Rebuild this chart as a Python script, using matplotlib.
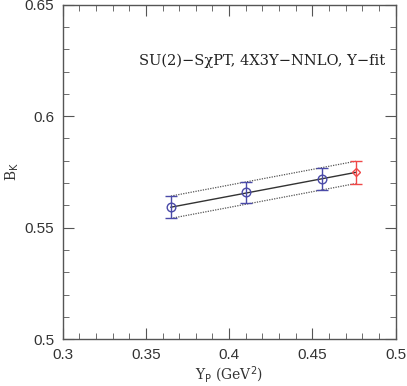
import matplotlib
matplotlib.use("Agg")
import matplotlib.pyplot as plt
from matplotlib.ticker import MultipleLocator

# data points (Y_P, B_K, error)
yp_blue = [0.365, 0.410, 0.4555]
bk_blue = [0.5592, 0.5658, 0.5718]
err_blue = [0.0050, 0.0049, 0.0049]

yp_red = [0.476]
bk_red = [0.5748]
err_red = [0.0050]

# fit line and error band
fit_x = [0.365, 0.476]
fit_y = [0.5592, 0.5748]
band_hi = [0.5642, 0.5798]
band_lo = [0.5542, 0.5698]

blue = "#4a4aa8"
red = "#f04848"
axcol = "#555555"

fig = plt.figure(figsize=(4.07, 3.86), dpi=100)
ax = fig.add_axes([0.154, 0.121, 0.818, 0.867])

ax.plot(fit_x, fit_y, color="#333333", lw=1.0)
ax.plot(fit_x, band_hi, color="#555555", lw=0.9, ls=(0, (1, 1)))
ax.plot(fit_x, band_lo, color="#555555", lw=0.9, ls=(0, (1, 1)))

ax.errorbar(yp_blue, bk_blue, yerr=err_blue, fmt="o", mfc="none", mec=blue,
            ecolor=blue, ms=6.2, mew=1.0, elinewidth=1.0, capsize=4, capthick=1.0)
ax.errorbar(yp_red, bk_red, yerr=err_red, fmt="D", mfc="none", mec=red,
            ecolor=red, ms=4.5, mew=1.0, elinewidth=1.0, capsize=4, capthick=1.0)

ax.set_xlim(0.3, 0.5)
ax.set_ylim(0.5, 0.65)
ax.xaxis.set_major_locator(MultipleLocator(0.05))
ax.xaxis.set_minor_locator(MultipleLocator(0.01))
ax.yaxis.set_major_locator(MultipleLocator(0.05))
ax.yaxis.set_minor_locator(MultipleLocator(0.01))
ax.tick_params(which="both", direction="in", top=True, right=True, colors=axcol,
               labelcolor="#333333", labelsize=11)
ax.tick_params(which="major", length=8, width=0.8, pad=6)
ax.tick_params(which="minor", length=4, width=0.6)
for s in ax.spines.values():
    s.set_color(axcol)
    s.set_linewidth(1.0)

xt = [0.3, 0.35, 0.4, 0.45, 0.5]
yt = [0.5, 0.55, 0.6, 0.65]
ax.set_xticks(xt)
ax.set_xticklabels([f"{v:g}" for v in xt], family="Liberation Sans")
ax.set_yticks(yt)
ax.set_yticklabels([f"{v:g}" for v in yt], family="Liberation Sans")

ax.set_xlabel(r"Y$_{\rm P}$ (GeV$^2$)", family="DejaVu Serif", fontsize=10, color="#333333", labelpad=2)
ax.set_ylabel(r"B$_{\rm K}$", family="DejaVu Serif", fontsize=10, color="#333333", labelpad=3)

ax.text(0.97, 0.832, "SU(2)\u2212S\u03c7PT, 4X3Y\u2212NNLO, Y\u2212fit", transform=ax.transAxes,
        ha="right", va="center", family="DejaVu Serif", fontsize=10.5, color="#222222")

fig.savefig("out.png", dpi=100)
